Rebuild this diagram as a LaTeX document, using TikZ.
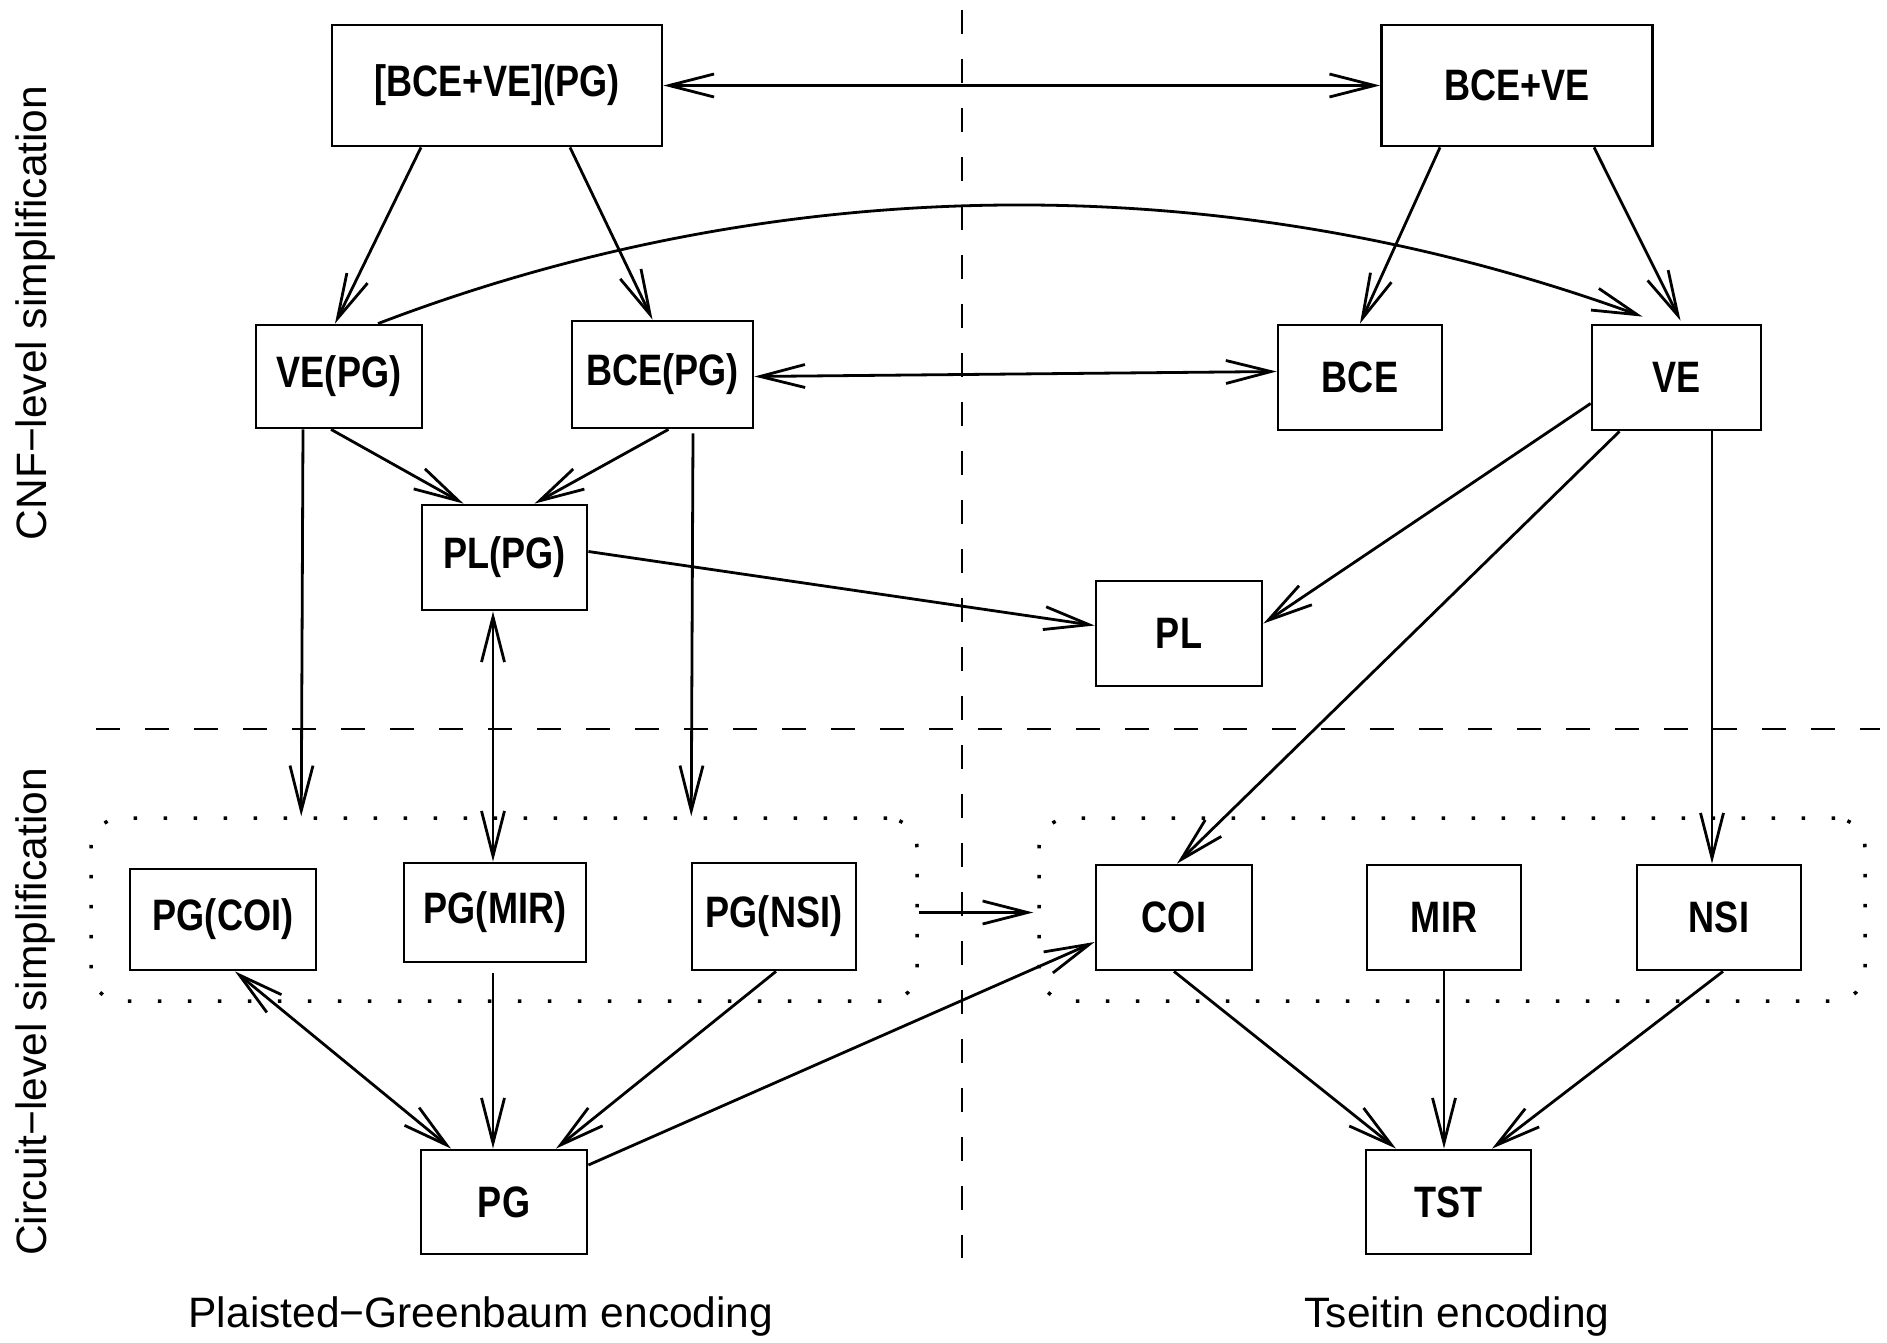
\documentclass[tikz,border=0pt]{standalone}
\usepackage{fontspec}
\setmainfont{Liberation Sans}
\newfontfamily\boxfont[FakeStretch=0.82]{Liberation Sans Bold}
\usetikzlibrary{arrows.meta,calc}
\tikzset{
    stage/.style={draw,line width=2.8pt,inner sep=0pt,font=\boxfont\fontsize{44}{50}\selectfont},
    barb/.style={Straight Barb[length=45pt,width=23pt,line width=2.8pt]},
    flow/.style={line width=2.8pt,-{Straight Barb[length=45pt,width=23pt,line width=2.8pt]}},
    twoway/.style={line width=2.8pt,{Straight Barb[length=45pt,width=23pt,line width=2.8pt]}-{Straight Barb[length=45pt,width=23pt,line width=2.8pt]}},
    group/.style={draw,line width=3.5pt,dash pattern=on 3.5pt off 26.5pt,rounded corners=30pt,inner sep=0pt,minimum width=826pt,minimum height=183pt},
    divider/.style={line width=2.8pt,dash pattern=on 24pt off 25pt},
    side/.style={font=\fontsize{42.5}{48}\selectfont}
}

\begin{document}
\begin{tikzpicture}[x=1pt,y=-1pt]
\useasboundingbox (0,0) rectangle (1887,1343);

% the two halves and the two levels
\draw[divider] (962,10) -- (962,1258);
\draw[divider] (96,729) -- (1880,729);

\node[side,rotate=90] (cnflabel) at (36,313) {CNF−level simplification};
\node[side,rotate=90] (cirlabel) at (36,1012) {Circuit−level simplification};
\node[side] (pglabel) at (481,1316) {Plaisted−Greenbaum encoding};
\node[side] (tslabel) at (1457,1316) {Tseitin encoding};

% CNF level
\node[stage,minimum width=330pt,minimum height=121pt] (pgtop) at (497,85.5) {[BCE+VE](PG)};
\node[stage,minimum width=271pt,minimum height=121pt] (tstop) at (1517,85.5) {BCE+VE};
\node[stage,minimum width=166pt,minimum height=103pt] (vepg) at (339,376.5) {VE(PG)};
\node[stage,minimum width=181pt,minimum height=107pt] (bcepg) at (662.5,374.5) {BCE(PG)};
\node[stage,minimum width=164pt,minimum height=105pt] (bce) at (1360,377.5) {BCE};
\node[stage,minimum width=169pt,minimum height=105pt] (ve) at (1676.5,377.5) {VE};
\node[stage,minimum width=165pt,minimum height=105pt] (plpg) at (504.5,557.5) {PL(PG)};
\node[stage,minimum width=166pt,minimum height=105pt] (pl) at (1179,633.5) {PL};

% circuit level
\node[group] (grpl) at (504,909.5) {};
\node[group] (grpr) at (1452,909.5) {};
\node[stage,minimum width=186pt,minimum height=101pt] (pgcoi) at (223,919.5) {PG(COI)};
\node[stage,minimum width=182pt,minimum height=99pt] (pgmir) at (495,912.5) {PG(MIR)};
\node[stage,minimum width=164pt,minimum height=107pt] (pgnsi) at (774,916.5) {PG(NSI)};
\node[stage,minimum width=156pt,minimum height=105pt] (coi) at (1174,917.5) {COI};
\node[stage,minimum width=154pt,minimum height=105pt] (mir) at (1444,917.5) {MIR};
\node[stage,minimum width=164pt,minimum height=105pt] (nsi) at (1719,917.5) {NSI};
\node[stage,minimum width=166pt,minimum height=104pt] (pg) at (504,1202) {PG};
\node[stage,minimum width=165pt,minimum height=104pt] (tst) at (1448.5,1202) {TST};

% connectors
\draw[twoway] (pgtop.east) -- (tstop.west);
\draw[flow] ($(pgtop.south)+(-76,0)$) -- ($(vepg.north)+(-4,0)$);
\draw[flow] ($(pgtop.south)+(73,0)$) -- ($(bcepg.north)+(-10,0)$);
\draw[flow] ($(tstop.south)+(-77,0)$) -- (bce.north);
\draw[flow] ($(tstop.south)+(77,0)$) -- ($(ve.north)+(4,-3)$);
\draw[flow] ($(vepg.north)+(39,0)$) .. controls +(400,-153) and +(-420,-153) .. ($(ve.north)+(-34,-7)$);
\draw[twoway] ($(bcepg.east)+(0,2)$) -- ($(bce.west)+(0,-6)$);
\draw[flow] ($(vepg.south)+(-8,0)$) -- ($(plpg.north)+(-41,0)$);
\draw[flow] ($(bcepg.south)+(6,0)$) -- ($(plpg.north)+(30,0)$);
\draw[flow] ($(vepg.south)+(-36,0)$) -- ($(grpl.north west)+(212,0)$);
\draw[flow] ($(bcepg.south)+(30.5,4)$) -- ($(grpl.north west)+(602,0)$);
\draw[flow] ($(plpg.east)+(0,-6)$) -- ($(pl.west)+(0,-8)$);
\draw[flow] ($(ve.west)+(0,26)$) -- ($(pl.east)+(0,-10)$);
\draw[flow] ($(ve.south)+(-57,0)$) -- ($(coi.north)+(3,0)$);
\draw[flow] ($(ve.south)+(35.5,0)$) -- ($(nsi.north)+(-7,0)$);
\draw[twoway] ($(plpg.south)+(-11.5,0)$) -- ($(pgmir.north)+(-2,0)$);
\draw[flow] ($(grpl.east)+(0,3)$) -- ($(grpr.west)+(-4,3)$);
\draw[twoway] ($(pgcoi.south)+(12,0)$) -- ($(pg.north)+(-53,0)$);
\draw[flow] ($(pgmir.south)+(-2,10)$) -- ($(pg.north)+(-11,0)$);
\draw[flow] ($(pgnsi.south)+(2,0)$) -- ($(pg.north)+(52,0)$);
\draw[flow] ($(pg.east)+(0,-37)$) -- ($(coi.west)+(0,24.5)$);
\draw[flow] (coi.south) -- ($(tst.north)+(-52.5,0)$);
\draw[flow] (mir.south) -- ($(tst.north)+(-4.5,0)$);
\draw[flow] ($(nsi.south)+(4,0)$) -- ($(tst.north)+(43.5,0)$);
\end{tikzpicture}
\end{document}
